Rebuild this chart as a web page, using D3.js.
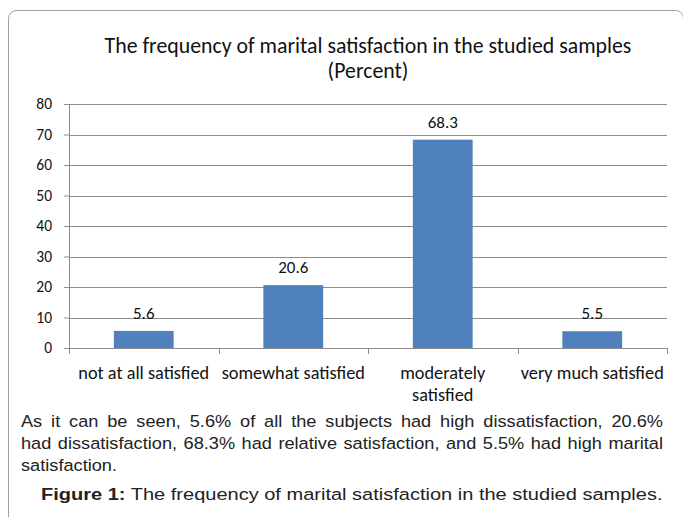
<!DOCTYPE html>
<html>
<head>
<meta charset="utf-8">
<script src="https://cdn.jsdelivr.net/npm/d3@7"></script>
<style>
  body { margin: 0; background: #fff; }
</style>
</head>
<body>
<div id="visualization"></div>
<script>
// chart data
const categories = ['not at all satisfied', 'somewhat satisfied', 'moderately satisfied', 'very much satisfied'];
const categoryLines = [['not at all satisfied'], ['somewhat satisfied'], ['moderately', 'satisfied'], ['very much satisfied']];
const values = [5.6, 20.6, 68.3, 5.5];
const yTicks = [0, 10, 20, 30, 40, 50, 60, 70, 80];
const titleLines = ['The frequency of marital satisfaction in the studied samples', '(Percent)'];
const captionLines = [
    'As it can be seen, 5.6% of all the subjects had high dissatisfaction, 20.6%',
    'had dissatisfaction, 68.3% had relative satisfaction, and 5.5% had high marital',
    'satisfaction.'
];

const W = 683, H = 517;
const margin = {top: 104, right: 16, bottom: 169, left: 69};
const width = 667 - margin.left;
const height = 348 - margin.top;
const labelFont = 'Carlito, Calibri, Lato, sans-serif';
const bodyFont = '"Liberation Sans", Arial, sans-serif';

const svg = d3.select('#visualization')
    .append('svg')
    .attr('width', W)
    .attr('height', H);

// outer frame
svg.append('rect')
    .attr('x', 8.5).attr('y', 10.5)
    .attr('width', 675).attr('height', 540)
    .attr('rx', 8)
    .attr('fill', 'none')
    .attr('stroke', '#a0a0a0');

// title
svg.append('text')
    .attr('x', 368).attr('y', 53)
    .attr('text-anchor', 'middle')
    .style('font-family', labelFont)
    .style('font-size', '21.8px')
    .attr('fill', '#111')
    .selectAll('tspan')
    .data(titleLines)
    .join('tspan')
    .attr('x', 368)
    .attr('dy', (d, i) => i ? 25 : 0)
    .text(d => d);

const g = svg.append('g')
    .attr('transform', `translate(${margin.left},${margin.top})`);

const x = d3.scaleBand().domain(categories).range([0, width]).paddingInner(0.6).paddingOuter(0.3);
const xb = d3.scaleBand().domain(categories).range([0, width]);
const y = d3.scaleLinear().domain([0, 80]).range([height, 0]);

// gridlines
g.append('g')
    .selectAll('line')
    .data(yTicks.filter(t => t > 0))
    .join('line')
    .attr('x1', 0).attr('x2', width)
    .attr('y1', d => Math.round(y(d)) + 0.5)
    .attr('y2', d => Math.round(y(d)) + 0.5)
    .attr('stroke', '#8c8c8c');

// bars
g.selectAll('rect.bar')
    .data(values)
    .join('rect')
    .attr('class', 'bar')
    .attr('x', (d, i) => x(categories[i]))
    .attr('width', x.bandwidth())
    .attr('y', d => y(d))
    .attr('height', d => height - y(d))
    .attr('fill', '#4f81bd');

// data labels
g.selectAll('text.val')
    .data(values)
    .join('text')
    .attr('class', 'val')
    .attr('x', (d, i) => x(categories[i]) + x.bandwidth() / 2)
    .attr('y', d => y(d) - 12)
    .attr('text-anchor', 'middle')
    .style('font-family', labelFont)
    .style('font-size', '17px')
    .attr('fill', '#111')
    .text(d => d.toFixed(1));

// y axis
const yAxis = g.append('g')
    .call(d3.axisLeft(y).tickValues(yTicks).tickSize(5).tickPadding(12));
yAxis.select('.domain').attr('stroke', '#8c8c8c').attr('d', `M0.5,0V${height}`);
yAxis.selectAll('.tick line').attr('stroke', '#8c8c8c');
yAxis.selectAll('.tick text')
    .style('font-family', labelFont)
    .style('font-size', '15.5px')
    .attr('fill', '#111');

// x axis
const xAxis = g.append('g')
    .attr('transform', `translate(0,${height})`);
xAxis.append('line')
    .attr('x1', -5).attr('x2', width)
    .attr('y1', 0.5).attr('y2', 0.5)
    .attr('stroke', '#8c8c8c');
xAxis.selectAll('line.tk')
    .data(categories.map(c => xb(c)).concat([width]))
    .join('line')
    .attr('class', 'tk')
    .attr('x1', d => Math.round(d) + 0.5).attr('x2', d => Math.round(d) + 0.5)
    .attr('y1', 0).attr('y2', 6)
    .attr('stroke', '#8c8c8c');
xAxis.selectAll('text.cat')
    .data(categoryLines)
    .join('text')
    .attr('class', 'cat')
    .attr('text-anchor', 'middle')
    .style('font-family', labelFont)
    .style('font-size', '18.3px')
    .attr('fill', '#111')
    .each(function(lines, i) {
        const cx = xb(categories[i]) + xb.bandwidth() / 2;
        d3.select(this).selectAll('tspan')
            .data(lines)
            .join('tspan')
            .attr('x', cx)
            .attr('y', (d, j) => 31 + j * 22)
            .text(d => d);
    });

// caption under the chart, justified by word spacing
const sx = 1.07;
const capLeft = 21, capRight = 663;
const cap = svg.append('g')
    .attr('transform', `translate(${capLeft},0) scale(${sx},1)`)
    .style('font-family', bodyFont)
    .style('font-size', '17px')
    .attr('fill', '#222');
captionLines.forEach((t, i) => {
    const txt = cap.append('text')
        .attr('x', 0)
        .attr('y', 427 + i * 22)
        .text(t);
    if (i < captionLines.length - 1) {
        const natural = txt.node().getComputedTextLength();
        const gaps = t.split(' ').length - 1;
        const target = (capRight - capLeft) / sx;
        txt.attr('word-spacing', (target - natural) / gaps);
    }
});
const fig = svg.append('text')
    .attr('y', 500)
    .style('font-family', bodyFont)
    .style('font-size', '17px')
    .attr('fill', '#222');
fig.append('tspan').style('font-weight', 'bold').text('Figure 1:');
fig.append('tspan').text(' The frequency of marital satisfaction in the studied samples.');
const figW = fig.node().getComputedTextLength();
fig.attr('transform', `translate(41,0) scale(${622 / figW},1)`);
</script>
</body>
</html>
